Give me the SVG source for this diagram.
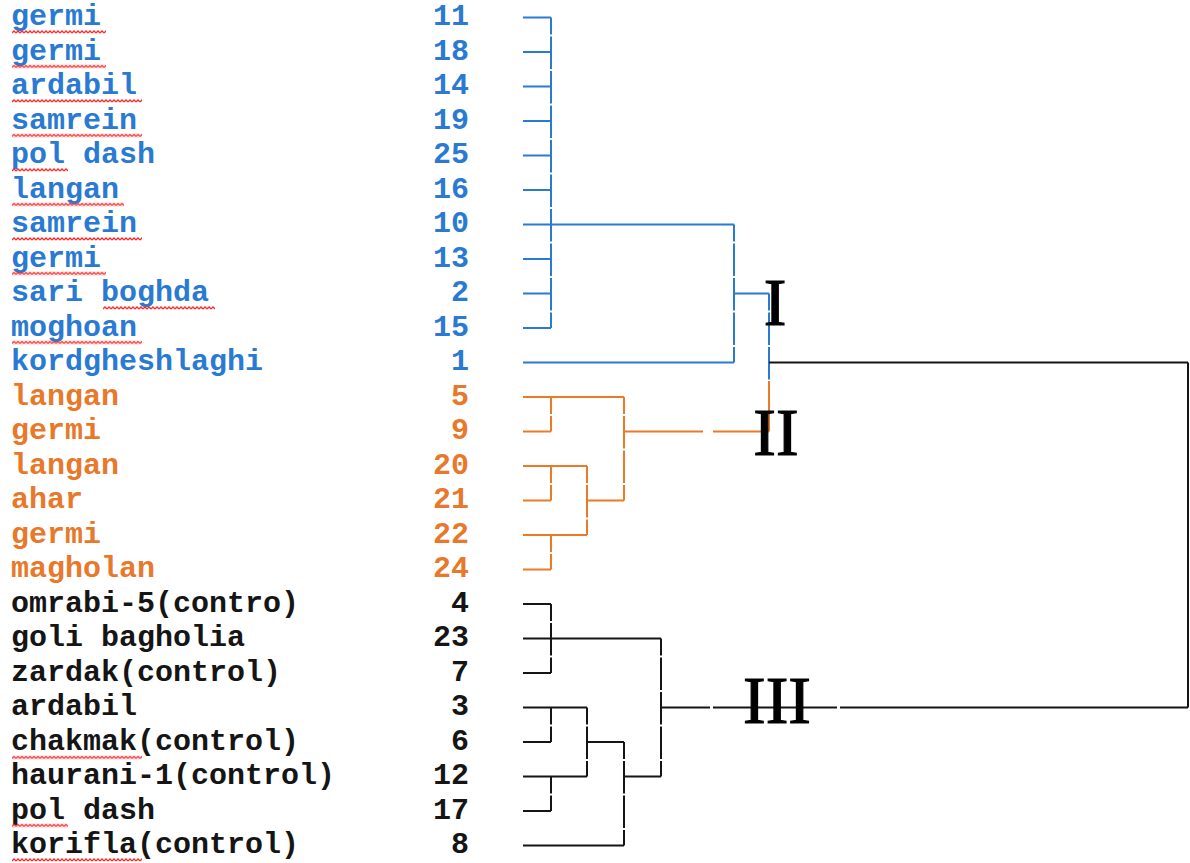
<svg xmlns="http://www.w3.org/2000/svg" width="1190" height="863" viewBox="0 0 1190 863">
<defs>
<style>
.lb{font-family:"Liberation Mono","Courier New",monospace;font-size:30px;font-weight:bold}
.num{text-anchor:end}
.b{fill:#2a7ad2}
.o{fill:#e8782a}
.k{fill:#151515}
.rn{font-family:"Liberation Serif","Times New Roman",serif;font-size:68px;fill:#000;stroke:#000;stroke-width:1.2;text-anchor:middle}
.cb{stroke:#2a7ad2}
.co{stroke:#ec7a25}
.ck{stroke:#151515}
line{stroke-width:2;fill:none}
.v{stroke-dasharray:32.5 2;stroke-dashoffset:15.5}
.sq{fill:url(#wave)}
</style>
<pattern id="wave" width="4" height="4" patternUnits="userSpaceOnUse">
<path d="M0 3 L2 1 L4 3" stroke="#ff2a2a" stroke-width="1.3" fill="none"/>
</pattern>
</defs>
<rect width="1190" height="863" fill="#fff"/>

<g id="leaves">
<g id="n11"><text class="lb b" x="11" y="25">germi</text><text class="lb b num" x="469" y="25">11</text><rect class="sq" transform="translate(12,30)" width="94" height="4"/></g>
<g id="n18"><text class="lb b" x="11" y="59.5">germi</text><text class="lb b num" x="469" y="59.5">18</text><rect class="sq" transform="translate(12,64.5)" width="94" height="4"/></g>
<g id="n14"><text class="lb b" x="11" y="94">ardabil</text><text class="lb b num" x="469" y="94">14</text><rect class="sq" transform="translate(12,99)" width="130" height="4"/></g>
<g id="n19"><text class="lb b" x="11" y="128.5">samrein</text><text class="lb b num" x="469" y="128.5">19</text><rect class="sq" transform="translate(12,133.5)" width="130" height="4"/></g>
<g id="n25"><text class="lb b" x="11" y="163">pol dash</text><text class="lb b num" x="469" y="163">25</text><rect class="sq" transform="translate(12,168)" width="56" height="4"/></g>
<g id="n16"><text class="lb b" x="11" y="197.5">langan</text><text class="lb b num" x="469" y="197.5">16</text><rect class="sq" transform="translate(12,202.5)" width="112" height="4"/></g>
<g id="n10"><text class="lb b" x="11" y="232">samrein</text><text class="lb b num" x="469" y="232">10</text><rect class="sq" transform="translate(12,237)" width="130" height="4"/></g>
<g id="n13"><text class="lb b" x="11" y="266.5">germi</text><text class="lb b num" x="469" y="266.5">13</text><rect class="sq" transform="translate(12,271.5)" width="94" height="4"/></g>
<g id="n2"><text class="lb b" x="11" y="301">sari boghda</text><text class="lb b num" x="469" y="301">2</text><rect class="sq" transform="translate(103,306)" width="112" height="4"/></g>
<g id="n15"><text class="lb b" x="11" y="335.5">moghoan</text><text class="lb b num" x="469" y="335.5">15</text><rect class="sq" transform="translate(12,340.5)" width="130" height="4"/></g>
<g id="n1"><text class="lb b" x="11" y="370">kordgheshlaghi</text><text class="lb b num" x="469" y="370">1</text></g>
<g id="n5"><text class="lb o" x="11" y="404.5">langan</text><text class="lb o num" x="469" y="404.5">5</text></g>
<g id="n9"><text class="lb o" x="11" y="439">germi</text><text class="lb o num" x="469" y="439">9</text></g>
<g id="n20"><text class="lb o" x="11" y="473.5">langan</text><text class="lb o num" x="469" y="473.5">20</text></g>
<g id="n21"><text class="lb o" x="11" y="508">ahar</text><text class="lb o num" x="469" y="508">21</text></g>
<g id="n22"><text class="lb o" x="11" y="542.5">germi</text><text class="lb o num" x="469" y="542.5">22</text></g>
<g id="n24"><text class="lb o" x="11" y="577">magholan</text><text class="lb o num" x="469" y="577">24</text></g>
<g id="n4"><text class="lb k" x="11" y="611.5">omrabi-5(contro)</text><text class="lb k num" x="469" y="611.5">4</text></g>
<g id="n23"><text class="lb k" x="11" y="646">goli bagholia</text><text class="lb k num" x="469" y="646">23</text></g>
<g id="n7"><text class="lb k" x="11" y="680.5">zardak(control)</text><text class="lb k num" x="469" y="680.5">7</text></g>
<g id="n3"><text class="lb k" x="11" y="715">ardabil</text><text class="lb k num" x="469" y="715">3</text></g>
<g id="n6"><text class="lb k" x="11" y="749.5">chakmak(control)</text><text class="lb k num" x="469" y="749.5">6</text><rect class="sq" transform="translate(12,755.5)" width="130" height="4"/></g>
<g id="n12"><text class="lb k" x="11" y="784">haurani-1(control)</text><text class="lb k num" x="469" y="784">12</text></g>
<g id="n17"><text class="lb k" x="11" y="818.5">pol dash</text><text class="lb k num" x="469" y="818.5">17</text><rect class="sq" transform="translate(12,823.5)" width="56" height="4"/></g>
<g id="n8"><text class="lb k" x="11" y="853">korifla(control)</text><text class="lb k num" x="469" y="853">8</text><rect class="sq" transform="translate(12,858)" width="130" height="4"/></g>
</g>

<g id="connectors">
<g class="cb">
<line x1="523" y1="17.5" x2="551" y2="17.5"/>
<line x1="523" y1="52" x2="551" y2="52"/>
<line x1="523" y1="86.5" x2="551" y2="86.5"/>
<line x1="523" y1="121" x2="551" y2="121"/>
<line x1="523" y1="155.5" x2="551" y2="155.5"/>
<line x1="523" y1="190" x2="551" y2="190"/>
<line x1="523" y1="224.5" x2="734" y2="224.5"/>
<line x1="523" y1="259" x2="551" y2="259"/>
<line x1="523" y1="293.5" x2="551" y2="293.5"/>
<line x1="523" y1="328" x2="551" y2="328"/>
<line x1="523" y1="362.5" x2="734" y2="362.5"/>
<line class="v" x1="551" y1="17.5" x2="551" y2="328"/>
<line class="v" x1="734" y1="224.5" x2="734" y2="362.5"/>
<line x1="734" y1="293.5" x2="769" y2="293.5"/>
<line class="v" x1="769" y1="293.5" x2="769" y2="381"/>
</g>
<g class="co">
<line x1="769" y1="381" x2="769" y2="431.5"/>
<line x1="523" y1="397" x2="624" y2="397"/>
<line x1="523" y1="431.5" x2="551" y2="431.5"/>
<line class="v" x1="551" y1="397" x2="551" y2="431.5"/>
<line class="v" x1="624" y1="397" x2="624" y2="500.5"/>
<line x1="624" y1="431.5" x2="703" y2="431.5"/>
<line x1="713" y1="431.5" x2="769" y2="431.5"/>
<line x1="523" y1="466" x2="587" y2="466"/>
<line x1="523" y1="500.5" x2="551" y2="500.5"/>
<line class="v" x1="551" y1="466" x2="551" y2="500.5"/>
<line x1="523" y1="535" x2="587" y2="535"/>
<line x1="523" y1="569.5" x2="551" y2="569.5"/>
<line class="v" x1="551" y1="535" x2="551" y2="569.5"/>
<line class="v" x1="587" y1="466" x2="587" y2="535"/>
<line x1="587" y1="500.5" x2="624" y2="500.5"/>
</g>
<g class="ck">
<line x1="523" y1="604" x2="551" y2="604"/>
<line x1="523" y1="638.5" x2="661" y2="638.5"/>
<line x1="523" y1="673" x2="551" y2="673"/>
<line class="v" x1="551" y1="604" x2="551" y2="673"/>
<line class="v" x1="661" y1="638.5" x2="661" y2="776.5"/>
<line x1="661" y1="707.5" x2="710" y2="707.5"/>
<line x1="713" y1="707.5" x2="837" y2="707.5"/>
<line x1="840" y1="707.5" x2="1188" y2="707.5"/>
<line x1="523" y1="707.5" x2="587" y2="707.5"/>
<line x1="523" y1="742" x2="551" y2="742"/>
<line class="v" x1="551" y1="707.5" x2="551" y2="742"/>
<line x1="523" y1="776.5" x2="587" y2="776.5"/>
<line x1="523" y1="811" x2="551" y2="811"/>
<line class="v" x1="551" y1="776.5" x2="551" y2="811"/>
<line class="v" x1="587" y1="707.5" x2="587" y2="776.5"/>
<line x1="587" y1="742" x2="624" y2="742"/>
<line class="v" x1="624" y1="742" x2="624" y2="845.5"/>
<line x1="523" y1="845.5" x2="624" y2="845.5"/>
<line x1="624" y1="776.5" x2="661" y2="776.5"/>
<line x1="769" y1="362.5" x2="1188" y2="362.5"/>
<line x1="1188" y1="362.5" x2="1188" y2="707.5"/>
</g>
</g>

<g id="cluster-labels">
<text class="rn" x="775" y="325">I</text>
<text class="rn" x="776" y="455">II</text>
<text class="rn" x="777" y="723">III</text>
</g>
</svg>
